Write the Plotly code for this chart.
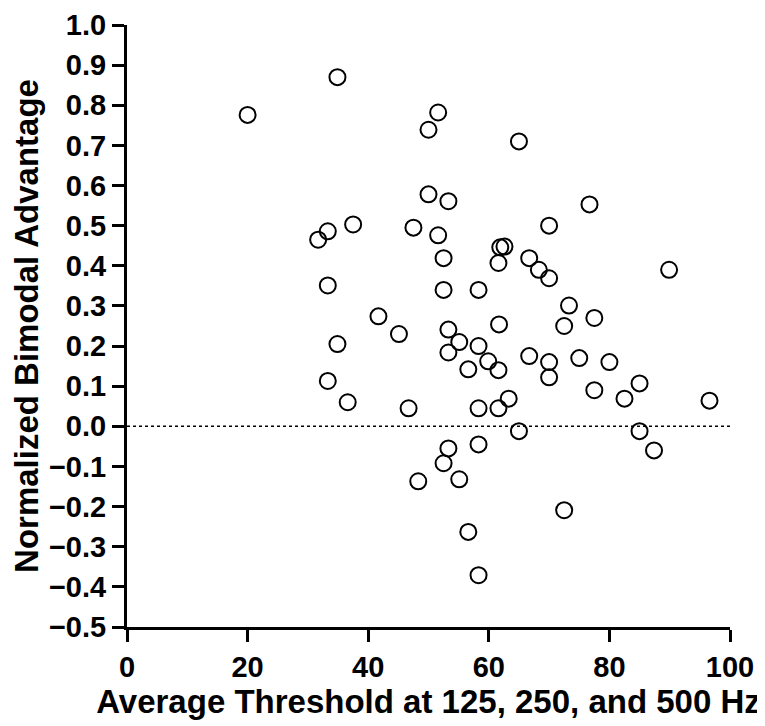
import plotly.graph_objects as go

threshold = [20.0, 34.9, 51.6, 50.0, 65.0, 50.0, 53.3, 76.7, 33.3, 31.7,
             37.5, 47.5, 51.6, 70.0, 52.5, 61.9, 62.6, 61.6, 66.7, 68.3,
             70.0, 89.9, 33.3, 52.5, 58.3, 73.3, 41.7, 77.5, 45.1, 53.3,
             61.7, 72.5, 34.9, 55.1, 58.3, 53.3, 59.9, 66.7, 75.0, 70.0,
             80.0, 56.6, 61.6, 70.0, 33.3, 85.0, 77.5, 63.3, 82.5, 96.6,
             36.6, 46.7, 58.3, 61.6, 65.0, 85.0, 58.3, 53.3, 87.4, 52.5,
             55.1, 48.3, 72.5, 56.6, 58.3]
advantage = [0.776, 0.870, 0.782, 0.739, 0.710, 0.578, 0.561, 0.553, 0.486, 0.465,
             0.503, 0.495, 0.476, 0.500, 0.419, 0.446, 0.448, 0.407, 0.419, 0.390,
             0.369, 0.390, 0.351, 0.340, 0.340, 0.301, 0.274, 0.270, 0.230, 0.241,
             0.254, 0.250, 0.205, 0.210, 0.200, 0.184, 0.162, 0.175, 0.170, 0.160,
             0.160, 0.142, 0.140, 0.122, 0.113, 0.107, 0.090, 0.069, 0.069, 0.064,
             0.060, 0.045, 0.045, 0.045, -0.012, -0.012, -0.045, -0.055, -0.060, -0.092,
             -0.132, -0.137, -0.209, -0.263, -0.371]

ref_x = [0, 100]
ref_y = [0, 0]

font_family = "Liberation Sans, Arial, sans-serif"

fig = go.Figure()
fig.add_trace(go.Scatter(
    x=ref_x, y=ref_y, mode="lines",
    line=dict(color="black", width=1.5, dash="dot"),
    hoverinfo="skip", showlegend=False,
))
fig.add_trace(go.Scatter(
    x=threshold, y=advantage, mode="markers",
    marker=dict(symbol="circle-open", size=16, color="black",
                line=dict(color="black", width=2)),
    showlegend=False, cliponaxis=False,
))

fig.update_layout(
    width=757, height=718,
    margin=dict(l=119, r=35, t=17, b=99, autoexpand=False),
    paper_bgcolor="white", plot_bgcolor="white",
    font=dict(family=font_family, color="black"),
)
fig.update_xaxes(
    range=[0, 100], tick0=0, dtick=20,
    showgrid=False, zeroline=False, automargin=False,
    showline=True, linecolor="black", linewidth=3,
    ticks="outside", ticklen=12, tickwidth=3, tickcolor="black",
    tickfont=dict(family=font_family, size=29, weight="bold", color="black"),
    title=dict(text="Average Threshold at 125, 250, and 500 Hz",
               font=dict(family=font_family, size=33, weight="bold", color="black"),
               standoff=7),
)
fig.update_yaxes(
    range=[-0.5, 1.0], tick0=-0.5, dtick=0.1, tickformat=".1f",
    showgrid=False, zeroline=False, automargin=False,
    showline=True, linecolor="black", linewidth=3,
    ticks="outside", ticklen=12, tickwidth=3, tickcolor="black",
    tickfont=dict(family=font_family, size=29, weight="bold", color="black"),
    title=dict(text="Normalized Bimodal Advantage",
               font=dict(family=font_family, size=33, weight="bold", color="black"),
               standoff=8),
)

fig.write_html("out.html")
